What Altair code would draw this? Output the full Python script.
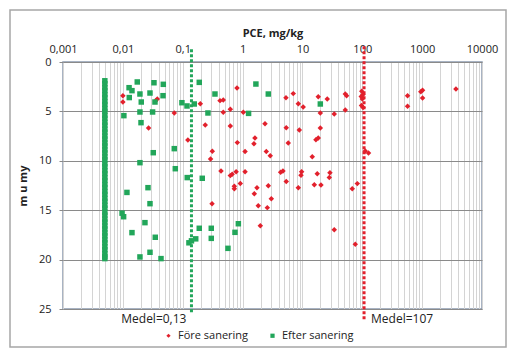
import altair as alt
import pandas as pd

# --- data ---
fore_pce = [0.0100, 0.0100, 0.0376, 0.035, 0.0269, 0.0723, 0.122, 0.197, 0.238, 0.312,
            0.292, 0.309, 0.42, 0.476, 0.476, 0.807, 0.624, 0.624, 0.817, 1.1,
            1.03, 0.436, 0.624, 0.67, 0.78, 0.728, 0.728, 0.916, 1.1,
            5.31, 7.03, 8.53, 10.3, 18.4, 26, 52, 54.7, 52, 34,
            19.9, 98, 103, 96, 100, 97, 103, 2.37, 5.37, 8.87, 19.9,
            1.61, 1.55, 5.8, 16.8, 18.4, 2.49, 2.9, 14.6, 112, 127,
            4.32, 4.73, 5.37, 9.7, 9.46, 17.7, 28.8, 28.1, 1.74, 1.57,
            2.69, 3.02, 1.83, 2.59, 8.53, 15.8, 20.4, 68, 82.6, 1.98,
            34, 76.4, 571, 571, 1016, 950, 1016, 3670]
fore_depth = [3.41, 4.05, 3.74, 3.95, 6.68, 5.16, 7.9, 4.22, 6.38, 9.04,
              9.82, 14.34, 3.91, 3.85, 5.09, 2.63, 6.48, 4.79, 8.16, 9.07,
              5.09, 11.03, 11.5, 11.37, 11.1, 12.58, 12.82, 12.3, 11.1,
              3.61, 3.2, 4.22, 4.55, 3.51, 3.74, 3.24, 3.41, 4.86, 5.26,
              5.16, 2.95, 3.3, 3.5, 3.75, 4.4, 4.6, 6.24, 6.65, 6.88, 6.68,
              7.69, 8.27, 8.2, 7.86, 7.69, 9.07, 9.48, 9.58, 9.0, 9.2,
              11.17, 11.03, 12.1, 11.1, 11.47, 11.3, 11.2, 11.7, 12.72, 13.33,
              12.52, 13.83, 14.54, 14.74, 12.72, 12.42, 12.45, 12.82, 12.31, 16.57,
              16.97, 18.45, 3.41, 4.49, 2.87, 3.0, 3.64, 2.73]

efter_pce = [0.0127, 0.0142, 0.0174, 0.0128, 0.0193, 0.0203, 0.0193, 0.0104, 0.0201, 0.0331,
             0.0474, 0.0284, 0.0344, 0.0469, 0.0314, 0.0322, 0.0193, 0.0723, 0.0752, 0.0263,
             0.0117, 0.0284, 0.0097, 0.0103, 0.0234, 0.0142, 0.0348, 0.0193, 0.0284, 0.0434,
             0.097, 0.118, 0.156, 0.189, 0.264, 0.346, 0.119, 0.212, 0.189, 0.3,
             0.3, 0.127, 0.14, 0.165, 0.85, 0.747, 0.57, 1.26, 1.67, 2.69, 19.9]
efter_depth = [2.6, 2.9, 2.02, 3.6, 3.24, 4.05, 5.06, 5.43, 6.14, 2.1,
               2.26, 3.14, 4.05, 3.41, 5.06, 9.18, 10.19, 8.77, 10.8, 12.72,
               13.2, 14.34, 15.3, 15.66, 16.26, 17.27, 17.74, 19.73, 19.26, 19.9,
               4.12, 4.45, 4.25, 2.06, 5.16, 3.24, 11.7, 11.77, 16.83, 16.83,
               17.85, 18.3, 18.1, 17.9, 16.37, 17.24, 18.86, 5.2, 2.23, 3.24, 4.25]

# samples below detection limit (0.005 mg/kg)
dl_value = 0.005
dl_depth = [1.9, 2.2, 2.6, 2.9, 3.3, 3.6, 4.0, 4.3, 4.7, 5.0, 5.4, 5.7, 6.1, 6.4, 6.8,
            7.1, 7.5, 7.8, 8.2, 8.5, 8.9, 9.2, 9.6, 9.9, 10.3, 10.6, 11.0, 11.3, 11.7,
            12.0, 12.4, 12.7, 13.1, 13.4, 13.8, 14.1, 14.5, 14.8, 15.2, 15.5, 15.9,
            16.2, 16.6, 16.9, 17.3, 17.6, 18.0, 18.3, 18.7, 19.0, 19.4, 19.7, 19.9]

series_names = ["Före sanering", "Efter sanering"]
series_colors = ["#e2202c", "#22a65a"]
series_shapes = ["diamond", "square"]

# mean lines: first = Efter sanering (green), second = Före sanering (red)
mean_labels = ["Medel=0,13", "Medel=107"]
mean_pos = [0.14, 107]
mean_top = [-1.3, -1.6]
mean_bottom = [25.4, 26.2]
mean_colors = [series_colors[1], series_colors[0]]

x_ticks = [m * 10 ** e for e in range(-3, 4) for m in range(1, 10)] + [10000]
y_ticks = [0, 5, 10, 15, 20, 25]

# --- tables ---
pts = pd.concat([
    pd.DataFrame({"pce": fore_pce, "depth": fore_depth, "serie": series_names[0]}),
    pd.DataFrame({"pce": efter_pce + [dl_value] * len(dl_depth),
                  "depth": efter_depth + dl_depth, "serie": series_names[1]}),
], ignore_index=True)
pts["order"] = pts["serie"].map({series_names[0]: 0, series_names[1]: 1})

means = pd.DataFrame({"label": mean_labels, "pos": mean_pos, "top": mean_top,
                      "bottom": mean_bottom, "color": mean_colors})

FONT = "Open Sans"

xscale = alt.Scale(type="log", domain=[0.001, 10000], nice=False)
yscale = alt.Scale(domain=[0, 25], reverse=True, nice=False)

xaxis = alt.Axis(orient="top", values=x_ticks, title="PCE, mg/kg",
                 labelExpr="abs(log(datum.value)/LN10 - round(log(datum.value)/LN10)) < 0.001 ? replace(format(datum.value, '~g'), '.', ',') : ''",
                 grid=True, gridColor="#d4d4d4", gridWidth=1, ticks=False,
                 domain=False, labelPadding=8, titlePadding=5,
                 labelFont=FONT, labelFontSize=11, labelColor="#222",
                 titleFont=FONT, titleFontSize=11, titleFontWeight="bold",
                 titleColor="#222", labelFlush=False, labelOverlap=False)
yaxis = alt.Axis(values=y_ticks, title="m u my", grid=True, gridColor="#8a8a8a",
                 gridWidth=1, tickColor="#8a8a8a", tickSize=4, domain=False,
                 labelPadding=8, titlePadding=10, labelFont=FONT, labelFontSize=11,
                 labelColor="#222", titleFont=FONT, titleFontSize=11,
                 titleFontWeight="bold", titleColor="#222")

# chart-area frame (decorative border around the whole figure)
frame = alt.Chart(pd.DataFrame({"f": [0]})).mark_rect(
    fill=None, stroke="#a6a6a6", strokeWidth=1.5
).encode(x=alt.value(-53), x2=alt.value(443), y=alt.value(-52), y2=alt.value(285))

points = alt.Chart(pts).mark_point(filled=True, opacity=1, size=30).encode(
    x=alt.X("pce:Q", scale=xscale, axis=xaxis),
    y=alt.Y("depth:Q", scale=yscale, axis=yaxis),
    color=alt.Color("serie:N", scale=alt.Scale(domain=series_names, range=series_colors),
                    legend=alt.Legend(orient="none", legendX=100, legendY=268,
                                      direction="horizontal", title=None,
                                      labelFont=FONT, labelFontSize=11, labelColor="#222",
                                      symbolSize=18, columnPadding=18, symbolOpacity=1)),
    shape=alt.Shape("serie:N", scale=alt.Scale(domain=series_names, range=series_shapes),
                    legend=None),
    order=alt.Order("order:Q"),
)

lines = alt.Chart(means).mark_rule(strokeWidth=3, strokeDash=[3, 2]).encode(
    x=alt.X("pos:Q", scale=xscale),
    y=alt.Y("top:Q", scale=yscale),
    y2="bottom:Q",
    color=alt.Color("color:N", scale=None, legend=None),
)

lbl_left = alt.Chart(means.iloc[[0]]).mark_text(
    align="right", baseline="middle", dx=-5, dy=10, font=FONT, fontSize=12, color="#222"
).encode(x=alt.X("pos:Q", scale=xscale), y=alt.datum(25), text="label:N")

lbl_right = alt.Chart(means.iloc[[1]]).mark_text(
    align="left", baseline="middle", dx=7, dy=10, font=FONT, fontSize=12, color="#222"
).encode(x=alt.X("pos:Q", scale=xscale), y=alt.datum(25), text="label:N")

chart = alt.layer(frame, points, lines, lbl_left, lbl_right).properties(
    width=419, height=247,
    autosize=alt.AutoSizeParams(type="none"),
    padding={"left": 55, "top": 54, "right": 25, "bottom": 40},
).configure_view(stroke="#8c9bb0", strokeWidth=1.5)

chart.save("out.html", embed_options={"renderer": "svg", "actions": False})
